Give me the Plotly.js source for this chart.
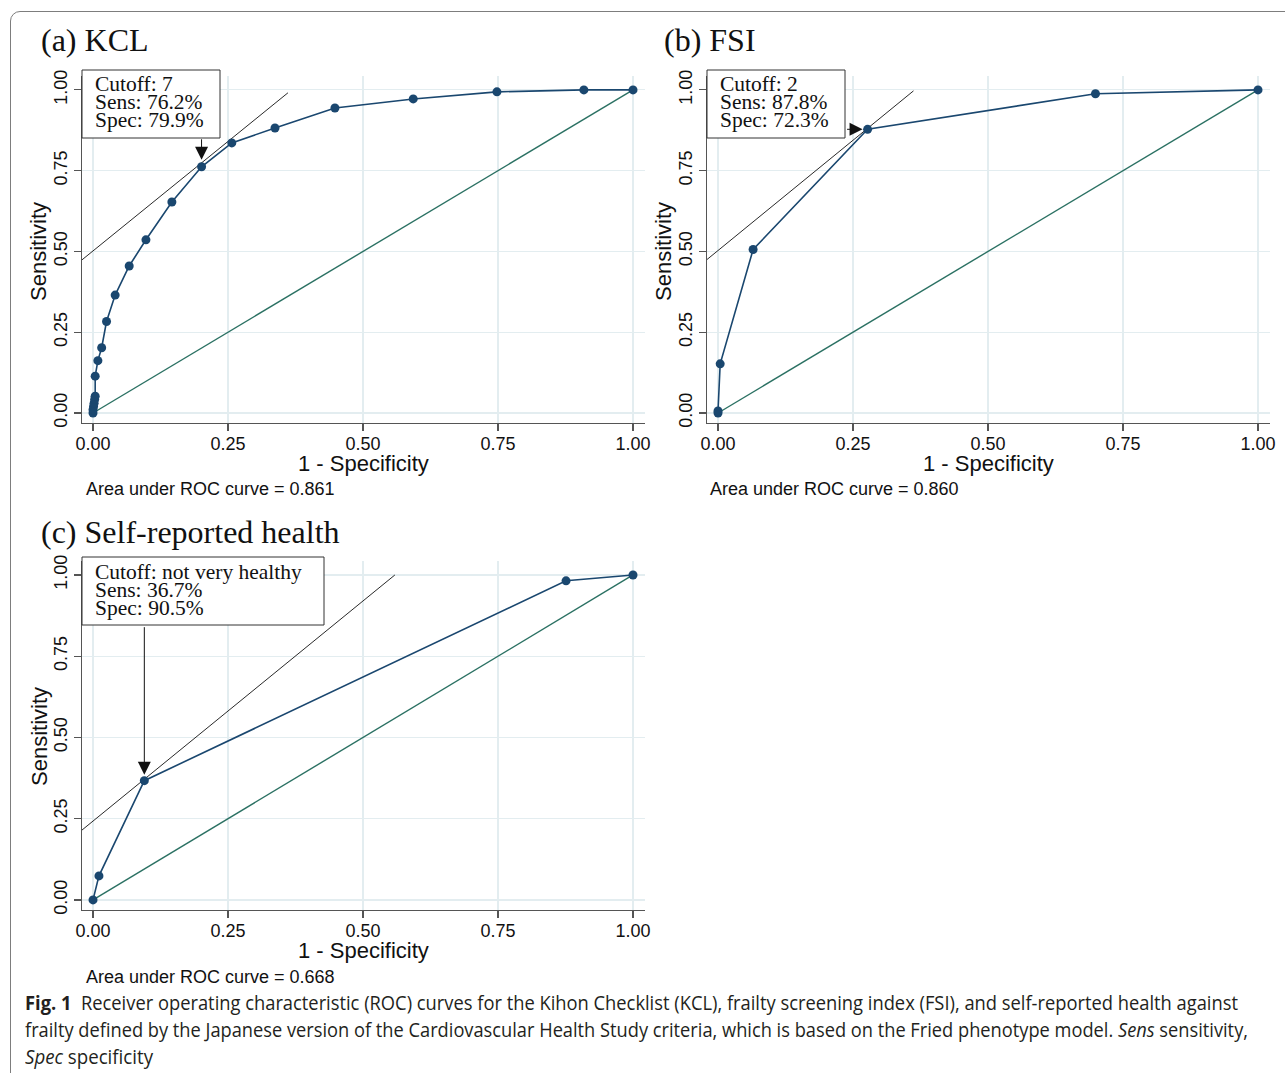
<!DOCTYPE html>
<html><head><meta charset="utf-8">
<script src="https://cdn.plot.ly/plotly-3.0.1.min.js"></script>
<style>
html,body{margin:0;padding:0;background:#fff;}
body{width:1285px;height:1073px;overflow:hidden;position:relative;}
#frame{position:absolute;left:10px;top:11px;width:1320px;height:1120px;border:1px solid #7d7d7d;border-radius:10px;box-sizing:border-box;}
#plot{position:absolute;left:0;top:0;width:1285px;height:1073px;}
.cap{position:absolute;left:25px;white-space:nowrap;transform-origin:0 50%;font-family:'Open Sans',sans-serif;font-size:19.5px;line-height:26px;color:#231f20;}
.cap b{font-weight:700;}
</style></head>
<body>
<div id="frame"></div>
<div id="plot"></div>
<div class="cap" id="cap1" data-w="1213" style="top:990px"><b>Fig. 1</b>&nbsp; Receiver operating characteristic (ROC) curves for the Kihon Checklist (KCL), frailty screening index (FSI), and self-reported health against</div>
<div class="cap" id="cap2" data-w="1223" style="top:1017px">frailty defined by the Japanese version of the Cardiovascular Health Study criteria, which is based on the Fried phenotype model. <i>Sens</i> sensitivity,</div>
<div class="cap" id="cap3" data-w="128" style="top:1044px"><i>Spec</i> specificity</div>
<script>
// ---- data ----
const kclFpr  = [0, 0, 0.001, 0.002, 0.003, 0.004, 0.004, 0.009, 0.016, 0.025, 0.041, 0.067, 0.098, 0.146, 0.201, 0.257, 0.337, 0.448, 0.593, 0.748, 0.909, 1];
const kclSens = [0, 0.010, 0.020, 0.030, 0.042, 0.052, 0.114, 0.162, 0.202, 0.283, 0.365, 0.455, 0.536, 0.653, 0.762, 0.836, 0.882, 0.944, 0.972, 0.994, 1.0, 1];
const fsiFpr  = [0, 0, 0.004, 0.065, 0.277, 0.699, 1];
const fsiSens = [0, 0.006, 0.152, 0.506, 0.878, 0.988, 1];
const srhFpr  = [0, 0.011, 0.095, 0.876, 1];
const srhSens = [0, 0.074, 0.367, 0.982, 1];
const refX = [0, 1];
const refY = [0, 1];
const kclTanX = [-0.0204, 0.361], kclTanY = [0.474, 0.991];
const fsiTanX = [-0.0204, 0.362], fsiTanY = [0.475, 0.997];
const srhTanX = [-0.0204, 0.559], srhTanY = [0.215, 1.0];
const kclCut = {x: 0.201, y: 0.762, lines: ['Cutoff: 7', 'Sens: 76.2%', 'Spec: 79.9%']};
const fsiCut = {x: 0.277, y: 0.878, lines: ['Cutoff: 2', 'Sens: 87.8%', 'Spec: 72.3%']};
const srhCut = {x: 0.095, y: 0.367, lines: ['Cutoff: not very healthy', 'Sens: 36.7%', 'Spec: 90.5%']};
const panelTitles = ['(a) KCL', '(b) FSI', '(c) Self-reported health'];
const aucLabels = ['Area under ROC curve = 0.861', 'Area under ROC curve = 0.860', 'Area under ROC curve = 0.668'];
const xTitle = '1 - Specificity';
const yTitle = 'Sensitivity';
const tickVals = [0, 0.25, 0.5, 0.75, 1];
const tickText = ['0.00', '0.25', '0.50', '0.75', '1.00'];

// ---- styling ----
const W = 1285, H = 1073;
const px = v => v / W, py = v => 1 - v / H;
const navy = '#1a476f', teal = '#2b7163';
const sans = 'Liberation Sans, Arial, sans-serif';
const serif = 'Liberation Serif, Times New Roman, serif';

function panelTraces(fx, fy, tx, ty, xa, ya) {
  return [
    {x: refX, y: refY, xaxis: xa, yaxis: ya, mode: 'lines', line: {color: teal, width: 1.4}, hoverinfo: 'skip', showlegend: false},
    {x: tx, y: ty, xaxis: xa, yaxis: ya, mode: 'lines', line: {color: '#111', width: 0.9}, hoverinfo: 'skip', showlegend: false},
    {x: fx, y: fy, xaxis: xa, yaxis: ya, mode: 'lines+markers', line: {color: navy, width: 1.6}, marker: {color: navy, size: 9}, showlegend: false}
  ];
}
const data = [].concat(
  panelTraces(kclFpr, kclSens, kclTanX, kclTanY, 'x', 'y'),
  panelTraces(fsiFpr, fsiSens, fsiTanX, fsiTanY, 'x2', 'y2'),
  panelTraces(srhFpr, srhSens, srhTanX, srhTanY, 'x3', 'y3')
);

function xax(dom, anchor) {
  return {domain: dom, anchor: anchor, range: [-0.0204, 1.0222], tickvals: tickVals, ticktext: tickText,
    showgrid: true, gridcolor: '#e3edf0', gridwidth: 1.2, zeroline: false, showline: true, linecolor: '#555', linewidth: 1.3,
    ticks: 'outside', ticklen: 7, tickcolor: '#555', tickwidth: 1.2, tickfont: {family: sans, size: 18, color: '#111'},
    ticklabelstandoff: -3, fixedrange: true};
}
function yax(dom, anchor) {
  return {domain: dom, anchor: anchor, range: [-0.031, 1.043], tickvals: tickVals, ticktext: tickText, tickangle: -90,
    showgrid: true, gridcolor: '#e3edf0', gridwidth: 1.2, zeroline: false, showline: true, linecolor: '#555', linewidth: 1.3,
    ticks: 'outside', ticklen: 7, tickcolor: '#555', tickwidth: 1.2, tickfont: {family: sans, size: 18, color: '#111'},
    fixedrange: true};
}

const annotations = [];
const shapes = [];
function txt(text, x, y, font, opts) {
  annotations.push(Object.assign({xref: 'paper', yref: 'paper', x: px(x), y: py(y), xanchor: 'left', yanchor: 'middle', text: text, showarrow: false, font: font}, opts || {}));
}
const titleFont = {family: serif, size: 32, color: '#111'};
const aucFont = {family: sans, size: 18, color: '#111'};
const axTitleFont = {family: sans, size: 22, color: '#111'};
function box(cut, x0, y0, x1, y1, textX, midY) {
  shapes.push({type: 'rect', xref: 'paper', yref: 'paper', x0: px(x0), x1: px(x1), y0: py(y0), y1: py(y1), line: {color: '#333', width: 1}, fillcolor: '#fff', layer: 'above'});
  const t = cut.lines.map(l => '<span style="font-size:21.5px">' + l + '</span>').join('<br>');
  txt(t, textX, midY, {family: serif, size: 13.9, color: '#111'}, {align: 'left'});
}
function arrow(cut, xa, ya, ax, ay, standoff) {
  annotations.push({xref: xa, yref: ya, x: cut.x, y: cut.y, ax: ax, ay: ay, text: '', showarrow: true, arrowhead: 2, arrowsize: 2.6, arrowwidth: 1, arrowcolor: '#111', standoff: standoff});
}

txt(panelTitles[0], 39, 40, titleFont);
txt(panelTitles[1], 662, 40, titleFont);
txt(panelTitles[2], 39, 532, titleFont);
txt(aucLabels[0], 84, 489, aucFont);
txt(aucLabels[1], 708, 489, aucFont);
txt(aucLabels[2], 84, 977, aucFont);
txt(xTitle, 363.5, 463, axTitleFont, {xanchor: 'center'});
txt(xTitle, 988.5, 463, axTitleFont, {xanchor: 'center'});
txt(xTitle, 363.5, 950, axTitleFont, {xanchor: 'center'});
txt(yTitle, 39, 252, axTitleFont, {xanchor: 'center', textangle: -90});
txt(yTitle, 664, 252, axTitleFont, {xanchor: 'center', textangle: -90});
txt(yTitle, 39, 737, axTitleFont, {xanchor: 'center', textangle: -90});
box(kclCut, 82, 70, 220, 138, 93, 102);
box(fsiCut, 707, 70, 845, 138, 718, 102);
box(srhCut, 82, 557, 324, 625, 93, 590);
arrow(kclCut, 'x', 'y', 0, -29, 7);
arrow(fsiCut, 'x2', 'y2', -22, 0, 5);
arrow(srhCut, 'x3', 'y3', 0, -155, 6);

const layout = {
  width: W, height: H, margin: {l: 0, r: 0, t: 0, b: 0}, paper_bgcolor: 'rgba(0,0,0,0)', plot_bgcolor: 'rgba(0,0,0,0)',
  showlegend: false,
  xaxis: xax([px(82), px(645)], 'y'), yaxis: yax([py(423), py(76)], 'x'),
  xaxis2: xax([px(707), px(1270)], 'y2'), yaxis2: yax([py(423), py(76)], 'x2'),
  xaxis3: xax([px(82), px(645)], 'y3'), yaxis3: yax([py(910), py(561)], 'x3'),
  annotations: annotations, shapes: shapes
};
Plotly.newPlot('plot', data, layout, {staticPlot: true, displayModeBar: false}).then(() => {
  document.querySelectorAll('.cap').forEach(el => {
    const w = el.getBoundingClientRect().width;
    const target = +el.dataset.w;
    el.style.transform = 'scaleX(' + (target / w) + ')';
  });
});
</script>
</body></html>
